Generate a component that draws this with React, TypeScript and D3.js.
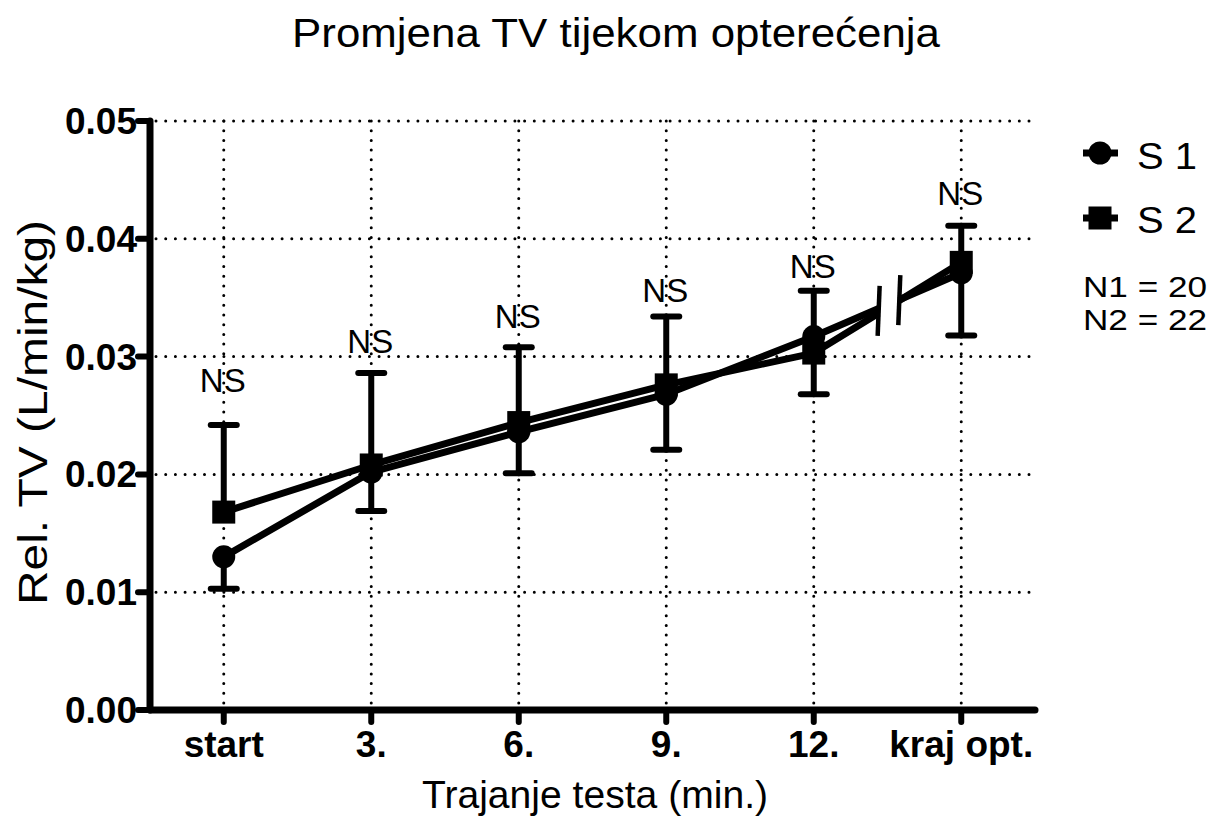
import React from 'react';
import { scaleLinear, line } from 'd3';

// categories along the x axis
const categories = ['start', '3.', '6.', '9.', '12.', 'kraj opt.'];

// group means
const s1 = [0.0130, 0.0202, 0.0236, 0.0268, 0.0317, 0.0371];
const s2 = [0.0168, 0.0208, 0.0244, 0.0276, 0.0303, 0.0380];

// SD: S 1 drawn below, S 2 drawn above
const s1Sd = [0.0027, 0.0033, 0.0035, 0.0047, 0.0049, 0.0053];
const s2Sd = [0.0074, 0.0078, 0.0064, 0.0058, 0.0053, 0.0031];

// level of the "NS" annotation over each point
const nsLabels = ['NS', 'NS', 'NS', 'NS', 'NS', 'NS'];
const nsLevel = [0.0270, 0.0303, 0.0324, 0.0346, 0.0367, 0.0429];

const yTicks = [0, 0.01, 0.02, 0.03, 0.04, 0.05];
const legendNotes = ['N1 = 20', 'N2 = 22'];

// break in the lines between the last two points
const breakFrom = 4.44;
const breakTo = 4.58;

const FONT = '"Liberation Sans", Arial, sans-serif';

function App() {
  const x = scaleLinear().domain([-0.5, 5.5]).range([150, 1035]);
  const y = scaleLinear().domain([0, 0.05]).range([710, 121]);

  const left = 150, right = 1035, top = 121, bottom = 710;

  const at = (vals: number[], t: number) => {
    const i = Math.floor(t);
    const f = t - i;
    return vals[i] + (vals[i + 1] - vals[i]) * f;
  };

  const path = line<[number, number]>()
    .x(d => x(d[0]))
    .y(d => y(d[1]));

  const segs = (vals: number[]) => {
    const last = vals.length - 1;
    const a: [number, number][] = vals.slice(0, last).map((v, i) => [i, v]);
    a.push([breakFrom, at(vals, breakFrom)]);
    const b: [number, number][] = [[breakTo, at(vals, breakTo)], [last, vals[last]]];
    return [path(a), path(b)];
  };

  const series = [
    { name: 'S 1', vals: s1, shape: 'circle' },
    { name: 'S 2', vals: s2, shape: 'square' },
  ];

  const marker = (shape: string, cx: number, cy: number, key?: any) =>
    shape === 'circle'
      ? <circle key={key} cx={cx} cy={cy} r={11.5} fill="#000" />
      : <rect key={key} x={cx - 11.5} y={cy - 11.5} width={23} height={23} fill="#000" />;

  const breakMid = (t: number) => (y(at(s1, t)) + y(at(s2, t))) / 2;

  return (
    <svg width={1211} height={818} style={{ position: 'absolute', left: 0, top: 0, background: '#fff' }}
      fontFamily={FONT}>
      <rect width={1211} height={818} fill="#fff" />
      <text x={292} y={47} fontSize={41} textLength={648} lengthAdjust="spacingAndGlyphs">
        Promjena TV tijekom opterećenja
      </text>

      {/* grid */}
      <g stroke="#000" strokeWidth={3} strokeLinecap="round" strokeDasharray="0 9.7">
        {yTicks.slice(1).map(t => (
          <line key={'h' + t} x1={left + 6} x2={right - 4} y1={y(t)} y2={y(t)} />
        ))}
        {categories.map((c, i) => (
          <line key={'v' + c} x1={x(i)} x2={x(i)} y1={top} y2={bottom - 6} />
        ))}
      </g>

      {/* error bars */}
      <g stroke="#000" strokeLinecap="round">
        {s1.map((v, i) => (
          <g key={'e1' + i}>
            <line x1={x(i)} x2={x(i)} y1={y(v)} y2={y(v - s1Sd[i])} strokeWidth={6} />
            <line x1={x(i) - 13} x2={x(i) + 13} y1={y(v - s1Sd[i])} y2={y(v - s1Sd[i])} strokeWidth={6} />
          </g>
        ))}
        {s2.map((v, i) => (
          <g key={'e2' + i}>
            <line x1={x(i)} x2={x(i)} y1={y(v)} y2={y(v + s2Sd[i])} strokeWidth={6} />
            <line x1={x(i) - 13} x2={x(i) + 13} y1={y(v + s2Sd[i])} y2={y(v + s2Sd[i])} strokeWidth={6} />
          </g>
        ))}
      </g>

      {/* lines */}
      <g fill="none" stroke="#000" strokeWidth={7} strokeLinejoin="round">
        {series.map(s => segs(s.vals).map((d, j) => <path key={s.name + j} d={d || ''} />))}
      </g>

      {/* break marks */}
      <g stroke="#000" strokeWidth={4.5}>
        {[breakFrom, breakTo].map(t => (
          <line key={'b' + t} x1={x(t) - 1} x2={x(t) + 1} y1={breakMid(t) + 25} y2={breakMid(t) - 25} />
        ))}
      </g>

      {/* markers */}
      {series.map(s => s.vals.map((v, i) => marker(s.shape, x(i), y(v), s.name + i)))}

      {/* NS labels */}
      {nsLabels.map((l, i) => (
        <text key={'ns' + i} x={x(i) - 1} y={y(nsLevel[i])} textAnchor="middle" fontSize={33}>{l}</text>
      ))}

      {/* axes */}
      <g stroke="#000" strokeLinecap="round">
        <line x1={left} x2={left} y1={top} y2={bottom} strokeWidth={7} />
        <line x1={left} x2={right} y1={bottom} y2={bottom} strokeWidth={7} />
        {yTicks.map(t => (
          <line key={'yt' + t} x1={left - 12} x2={left} y1={y(t)} y2={y(t)} strokeWidth={6} />
        ))}
        {categories.map((c, i) => (
          <line key={'xt' + c} x1={x(i)} x2={x(i)} y1={bottom} y2={bottom + 12} strokeWidth={6} />
        ))}
      </g>
      {yTicks.map(t => (
        <text key={'yl' + t} x={137} y={y(t) + 13} textAnchor="end" fontSize={37} fontWeight="bold">
          {t.toFixed(2)}
        </text>
      ))}
      {categories.map((c, i) => (
        <text key={'xl' + c} x={x(i)} y={757} textAnchor="middle" fontSize={37} fontWeight="bold">{c}</text>
      ))}

      <text x={422} y={808} fontSize={39} textLength={346} lengthAdjust="spacingAndGlyphs">
        Trajanje testa (min.)
      </text>
      <text transform="translate(47,605) rotate(-90)" fontSize={41} textLength={385} lengthAdjust="spacingAndGlyphs">
        Rel. TV (L/min/kg)
      </text>

      {/* legend */}
      {series.map((s, i) => (
        <g key={'lg' + s.name}>
          <line x1={1083} x2={1118} y1={153 + i * 65} y2={153 + i * 65} stroke="#000" strokeWidth={7} />
          {marker(s.shape, 1100, 153 + i * 65)}
          <text x={1137} y={169 + i * 64} fontSize={37} textLength={60} lengthAdjust="spacingAndGlyphs">{s.name}</text>
        </g>
      ))}
      {legendNotes.map((n, i) => (
        <text key={n} x={1083} y={297 + i * 33} fontSize={29} textLength={124} lengthAdjust="spacingAndGlyphs">{n}</text>
      ))}
    </svg>
  );
}

export default App;
